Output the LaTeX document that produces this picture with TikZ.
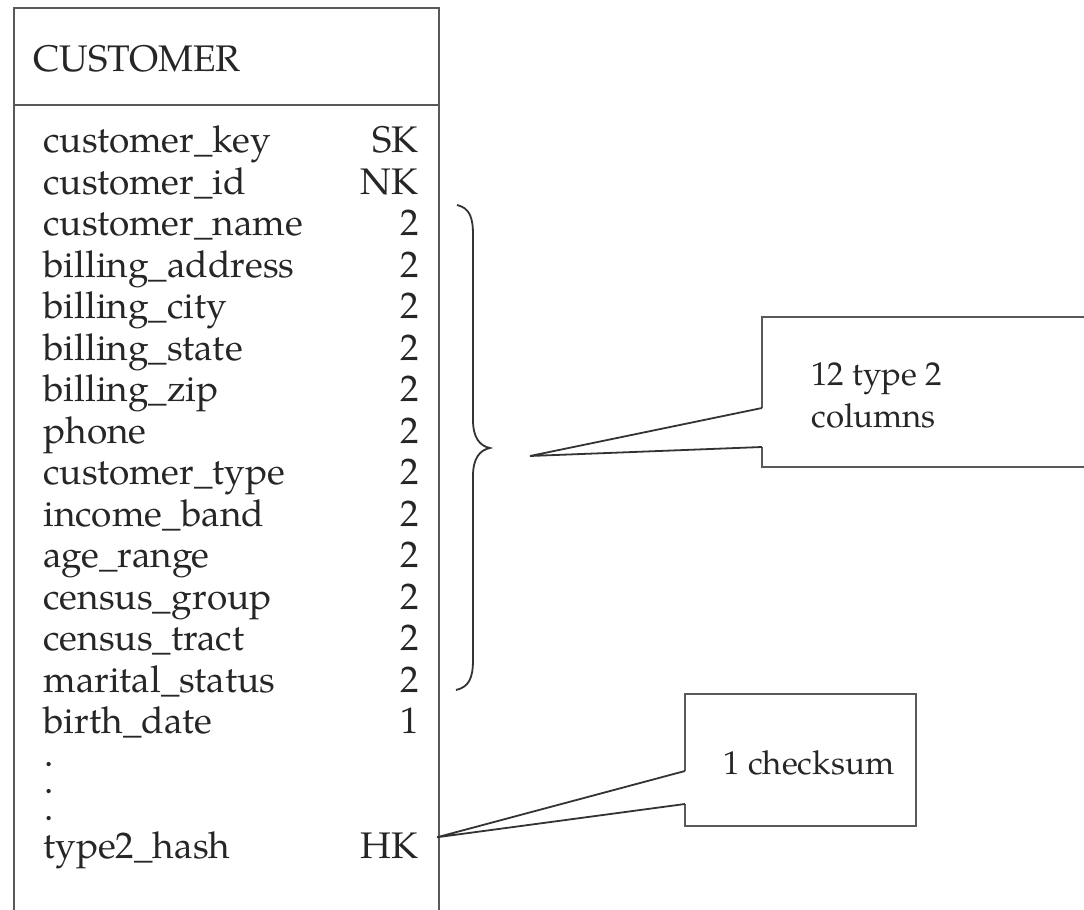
\documentclass[tikz,border=0pt]{standalone}
\usepackage{fontspec}
\setmainfont{TeX Gyre Pagella}
\begin{document}
\begin{tikzpicture}[x=0.5pt,y=-0.5pt,
  frame/.style={draw=black!65, line width=1.1pt, line join=miter},
  thin/.style={draw=black!80, line width=0.9pt},
  txt/.style={inner sep=0pt, text=black!85, font=\fontsize{18.5}{22}\selectfont},
  fld/.style={txt, anchor=base west},
  typ/.style={txt, anchor=base east},
  note/.style={fld, font=\fontsize{16.5}{20}\selectfont}]
\useasboundingbox (0,0) rectangle (1084,910);
% table
\draw[frame] (14,915) -- (14,8) -- (439,8) -- (439,915);
\draw[frame] (14,105) -- (439,105);
\node[fld] (title) at (33,71) {CUSTOMER};
\foreach \f/\t [count=\i from 0] in {customer\_key/SK, customer\_id/NK,
  customer\_name/2, billing\_address/2, billing\_city/2, billing\_state/2,
  billing\_zip/2, phone/2, customer\_type/2, income\_band/2, age\_range/2,
  census\_group/2, census\_tract/2, marital\_status/2, birth\_date/1}{
  \node[fld] (f\i) at (43,152.7+41.5*\i) {\f};
  \node[typ] (t\i) at (419,152.7+41.5*\i) {\t};
}
\node[fld, align=left, font=\fontsize{18.5}{13.5}\selectfont] (dots) at (44,820) {.\\.\\.};
\node[fld] (hashf) at (43,858) {type2\_hash};
\node[typ] (hashk) at (419,858) {HK};
% brace
\draw[thin] (457,205) .. controls (470,208) and (473,218) .. (473,235)
  -- (473,420) .. controls (473,438) and (480,446) .. (490,448)
  .. controls (480,450) and (473,458) .. (473,476)
  -- (473,660) .. controls (473,678) and (469,687) .. (456,690);
\coordinate (brace) at (490,448);
% callout 1
\coordinate (tip1) at (530,456);
\coordinate (a1) at (762,408);
\coordinate (b1) at (762,447);
\draw[frame] (b1) -- (762,467) -- (1100,467) -- (1100,317) -- (762,317) -- (a1);
\draw[thin] (a1) -- (tip1) -- (b1);
\node[note] (note1a) at (811,385) {12 type 2};
\node[note] (note1b) at (811,427) {columns};
% callout 2
\path (hashk.east) ++(18,-8) coordinate (tip2);
\coordinate (a2) at (685,771);
\coordinate (b2) at (685,804);
\draw[frame] (b2) -- (685,826) -- (916,826) -- (916,694) -- (685,694) -- (a2);
\draw[thin] (a2) -- (tip2) -- (b2);
\node[note] (note2) at (723,774) {1 checksum};
\end{tikzpicture}
\end{document}
